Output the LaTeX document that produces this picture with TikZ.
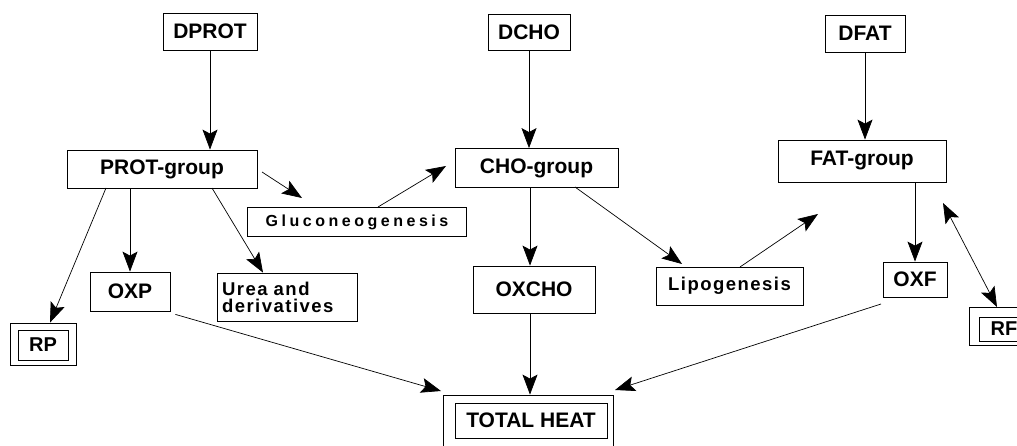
\documentclass[tikz,border=0pt]{standalone}
\usepackage{fontspec}
\setmainfont{Liberation Sans}
\usetikzlibrary{arrows.meta}
\begin{document}
\begin{tikzpicture}[x=1pt,y=-1pt,
  box/.style={draw,line width=0.8pt,inner sep=0pt,font=\fontsize{21}{23}\selectfont\bfseries},
  sbox/.style={box,font=\fontsize{18.5}{20}\selectfont\bfseries\addfontfeature{LetterSpace=8}},
  arr/.style={line width=0.7pt,-{Stealth[length=20pt,width=15pt,inset=4pt]}},
  darr/.style={line width=0.7pt,{Stealth[length=20pt,width=15pt,inset=4pt]}-{Stealth[length=20pt,width=15pt,inset=4pt]}}]
\useasboundingbox (0,0) rectangle (1017,446);
\clip (0,0) rectangle (1017,446);
% top boxes
\node[box,minimum width=94,minimum height=37] (dprot) at (210,31.5) {DPROT};
\node[box,minimum width=82,minimum height=36] (dcho) at (529,32) {DCHO};
\node[box,minimum width=80,minimum height=37] (dfat) at (865,33.5) {DFAT};
% groups
\node[box,minimum width=190,minimum height=38] (prot) at (162,169) {PROT-group};
\node[box,minimum width=163,minimum height=39] (cho) at (536.5,168) {CHO-group};
\node[box,minimum width=168,minimum height=42] (fat) at (862,161) {FAT-group};
% middle
\node[box,minimum width=219,minimum height=29,font=\fontsize{16}{18}\selectfont\bfseries\addfontfeature{LetterSpace=22}] (gluc) at (357,222) {Gluconeogenesis};
\node[box,minimum width=80,minimum height=39] (oxp) at (130,291.5) {OXP};
\node[sbox,minimum width=140,minimum height=48,align=left,text width=130] (urea) at (287,297) {Urea and\\[-3pt]derivatives};
\node[box,minimum width=122,minimum height=47] (oxcho) at (534,289.5) {OXCHO};
\node[sbox,minimum width=147,minimum height=38] (lipo) at (729.5,286) {Lipogenesis};
\node[box,minimum width=64,minimum height=35] (oxf) at (915,279.5) {OXF};
% RP
\node[draw,line width=0.8pt,minimum width=66,minimum height=42,inner sep=0pt] (rp) at (43,344) {};
\node[box,minimum width=50,minimum height=30,font=\fontsize{20}{22}\selectfont\bfseries] (rpin) at (43,345) {RP};
% RF
\node[draw,line width=0.8pt,minimum width=66,minimum height=38,inner sep=0pt] (rf) at (1002,326.5) {};
\node[box,minimum width=50,minimum height=24,font=\fontsize{20}{22}\selectfont\bfseries] (rfin) at (1004,329) {RF};
% total heat
\node[draw,line width=0.8pt,minimum width=170,minimum height=52,inner sep=0pt] (th) at (528,421) {};
\node[box,minimum width=152,minimum height=35,font=\fontsize{21}{23}\selectfont\bfseries] (thin) at (531,420.5) {TOTAL HEAT};
% connectors
\draw[arr] (dprot.south) -- (prot.north -| dprot.south);
\draw[arr] (dcho.south) -- (cho.north -| dcho.south);
\draw[arr] (dfat.south) -- (fat.north -| dfat.south);
\coordinate (p1) at (262,172);
\coordinate (g1) at (302,198);
\draw[arr] (p1) -- (g1);
\coordinate (g2) at (378,207);
\coordinate (c1) at (446,166);
\draw[arr] (g2) -- (c1);
\draw[arr] (prot.south -| oxp.north) -- (oxp.north);
\draw[arr] (212,188) -- (urea.north -| 263,0);
\draw[arr] (106,188) -- (rp.north -| 50,0);
\draw[arr] (cho.south -| 530,0) -- (oxcho.north -| 530,0);
\coordinate (c2) at (575,187);
\draw[arr] (c2) -- (682,264);
\draw[arr] (740,267) -- (818,214);
\draw[arr] (fat.south -| 915,0) -- (oxf.north);
\draw[darr] (943,203) -- (997,307);
\draw[arr] (oxp.south east) ++(5,3) coordinate (o1) (o1) -- (441,391);
\draw[arr] (oxcho.south -| 530,0) -- (th.north -| 530,0);
\draw[arr] (881,304) -- (615,390);
\end{tikzpicture}
\end{document}
